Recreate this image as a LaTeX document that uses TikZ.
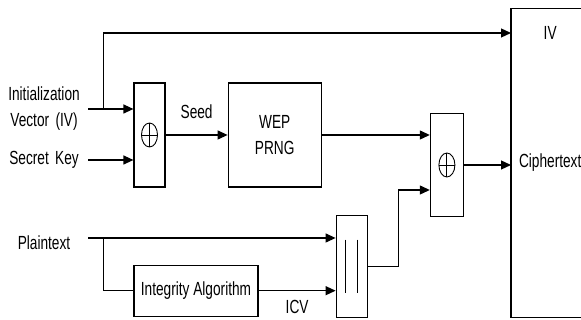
\documentclass[tikz,border=0pt]{standalone}
\usepackage{fontspec}
\setmainfont[FakeStretch=0.72]{Liberation Sans}
\usetikzlibrary{arrows.meta,positioning,shapes.geometric}
\tikzset{
  block/.style={
    draw=black,
    line width=1.2pt,
    inner sep=0pt,
    align=center,
    font=\fontsize{19}{26}\selectfont
  },
  txt/.style={
    font=\fontsize{19}{26}\selectfont,
    align=center,
    inner sep=2pt
  },
  intxt/.style={
    txt,
    text width=84pt
  },
  arrow/.style={
    -{Triangle[length=10pt,width=9pt]},
    line width=1.2pt,
    draw=black
  },
  wire/.style={
    line width=1.2pt,
    draw=black
  },
  xorsym/.style={
    draw,
    ellipse,
    line width=0.9pt,
    minimum width=16pt,
    minimum height=24pt,
    inner sep=0pt,
    path picture={
      \draw[line width=0.9pt]
        (path picture bounding box.north) -- (path picture bounding box.south)
        (path picture bounding box.west) -- (path picture bounding box.east);
    }
  }
}

\begin{document}
\begin{tikzpicture}[x=1pt,y=1pt]

\path[use as bounding box, fill=white] (0,0) rectangle (581,320);

% inputs
\node[intxt] (ivtxt) at (44,211) {Initialization\\Vector (IV)};
\node[intxt] (sktxt) at (44,160) {Secret Key};
\node[intxt] (pttxt) at (44,77) {Plaintext};

% key stream part
\node[block, minimum width=31pt, minimum height=104pt] (xor1) at (149.5,185) {};
\node[xorsym] (xsym1) at (xor1) {};
\node[block, minimum width=93pt, minimum height=104pt, right=62pt of xor1] (prng) {WEP\\PRNG};
\node[block, minimum width=33pt, minimum height=103pt, right=108pt of prng, yshift=-30pt] (xor2) {};
\node[xorsym] (xsym2) at (xor2) {};

% output frame
\node[txt, inner sep=0pt, minimum width=78pt, minimum height=308pt, right=47pt of xor2, yshift=2pt] (cipher) {Ciphertext};
\node[txt] (ivlbl) at ([yshift=-24pt]cipher.north) {IV};
\draw[wire] (cipher.north east) -- (cipher.north west) -- (cipher.south west) -- (cipher.south east);

% plaintext part
\node[block, minimum width=124pt, minimum height=51pt, below=77pt of xor1.south west, anchor=north west] (integ) {Integrity Algorithm};
\node[block, minimum width=31pt, minimum height=102pt, right=77pt of integ, yshift=24.5pt] (concat) {};
\draw[line width=1pt] ([xshift=-6pt,yshift=26.5pt]concat.center) -- ([xshift=-6pt,yshift=-26.5pt]concat.center)
  ([xshift=6pt,yshift=26.5pt]concat.center) -- ([xshift=6pt,yshift=-26.5pt]concat.center);

\coordinate (ivbr) at ([xshift=15pt]ivtxt.east);
\coordinate (ivtop) at ([yshift=76pt]ivbr);
\coordinate (ptin) at ([yshift=5pt]pttxt.east);
\coordinate (ptbr) at ([xshift=15pt]ptin);
\coordinate (ccbr) at ([xshift=31pt]concat.east);

\draw[arrow] (ivtxt.east) -- (ivtxt.east -| xor1.west);
\draw[arrow] (ivbr) -- (ivtop) -- (ivtop -| cipher.west);
\draw[arrow] (sktxt.east) -- (sktxt.east -| xor1.west);
\draw[arrow] (xor1.east) -- node[txt, above=14pt] (seedlbl) {Seed} (xor1.east -| prng.west);
\draw[arrow] (prng.east) -- (prng.east -| xor2.west);
\draw[arrow] (xor2.east) -- (xor2.east -| cipher.west);
\draw[arrow] (ptin) -- (ptin -| concat.west);
\draw[wire] (ptbr) |- (integ.west);
\draw[arrow] (integ.east) -- node[txt, below=7pt] (icvlbl) {ICV} (integ.east -| concat.west);
\draw[wire] (concat.east) -- (ccbr);
\draw[arrow] (ccbr) |- ([yshift=-25pt]xor2.west);

\end{tikzpicture}
\end{document}
